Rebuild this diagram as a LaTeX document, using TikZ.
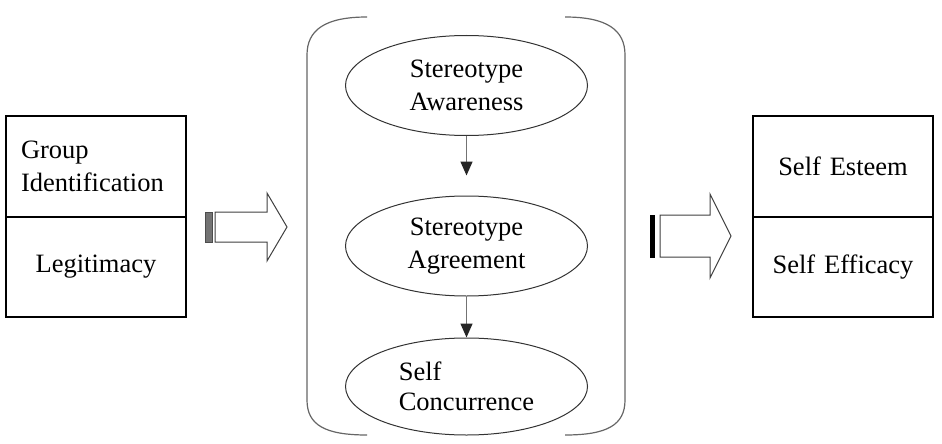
\documentclass[tikz,border=0pt]{standalone}
\usepackage{fontspec}
\setmainfont{Liberation Serif}
\usepackage{tikz}
\usetikzlibrary{arrows.meta,positioning,shapes.geometric}

\begin{document}
\begin{tikzpicture}[x=1pt, y=-1pt, >=Latex,
    font=\fontsize{26.5}{33}\selectfont,
    cellbox/.style={draw, line width=1.6pt, minimum width=180pt, minimum height=100.5pt,
      text width=150pt, inner xsep=15pt, inner ysep=0pt, outer sep=0pt},
    stage/.style={ellipse, draw=black!80, line width=1pt, minimum width=242pt,
      minimum height=100pt, inner sep=0pt},
    flow/.style={draw=black!55, line width=1.4pt,
      -{Triangle[width=12pt,length=14pt,color=black!85]}},
    bracket/.style={draw=black!60, line width=1.2pt},
    blockarrow/.style={draw=black!75, line width=1pt, fill=white}]
  \useasboundingbox (0,0) rectangle (942,444);

  % inputs
  \node[cellbox, align=left] (group) at (96,166.5) {Group\\Identification};
  \node[cellbox, align=center, below=0pt of group] (legit) {Legitimacy};

  % outcomes
  \node[cellbox, align=center] (esteem) at (843,166.5) {Self Esteem};
  \node[cellbox, align=center, below=0pt of esteem] (efficacy) {Self Efficacy};

  % mediators
  \node[stage, align=center] (aware) at (466.5,85.5) {Stereotype\\Awareness};
  \node[stage, align=center] (agree) at (466.5,246) {Stereotype\\Agreement};
  \node[stage, align=left, minimum height=97pt, xshift=-4pt] (concur) at (470.5,386.5)
    {Self\\[-3pt]Concurrence};
  \draw[flow, shorten >=20pt] (aware) -- (agree);
  \draw[flow] (agree) -- (concur);

  % bracket pair round the mediators
  \draw[bracket] (367,17) .. controls (325,17) and (307,30) .. (307,55) -- (307,400)
    .. controls (307,425) and (325,435) .. (367,435);
  \draw[bracket] (565,17) .. controls (607,17) and (625,30) .. (625,55) -- (625,400)
    .. controls (625,425) and (607,435) .. (565,435);

  % striped block arrows
  \filldraw[draw=black!70, fill=black!55] (205,212) rectangle (212,242);
  \draw[blockarrow] (215,212) -- (267,212) -- (267,193) -- (287,227) -- (267,261)
    -- (267,242) -- (215,242) -- cycle;
  \filldraw[draw=black, fill=black] (650,215) rectangle (654,257);
  \draw[blockarrow] (660,215) -- (710,215) -- (710,194) -- (731,236) -- (710,278)
    -- (710,257) -- (660,257) -- cycle;
\end{tikzpicture}
\end{document}
